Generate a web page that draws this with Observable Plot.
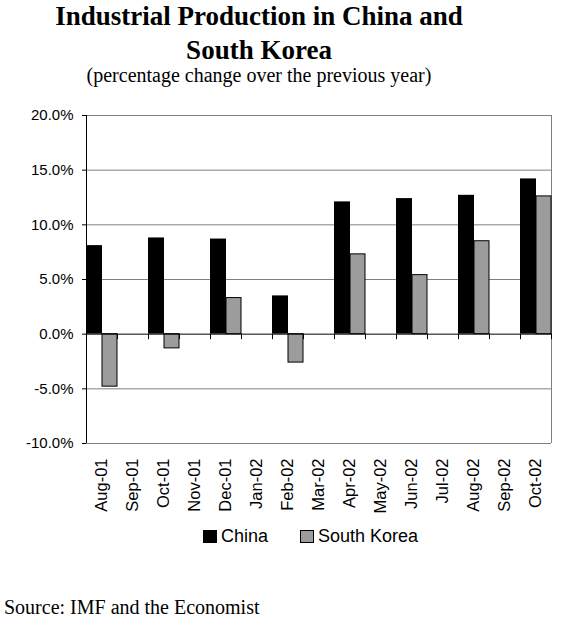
<!DOCTYPE html>
<html>
<head>
<meta charset="utf-8">
<script src="https://cdn.jsdelivr.net/npm/d3@7"></script>
<script src="https://cdn.jsdelivr.net/npm/@observablehq/plot@0.6"></script>
<style>
  html, body { margin: 0; padding: 0; background: #fff; }
  #wrap { position: relative; width: 588px; height: 618px; overflow: hidden; background: #fff; }
  .title { position: absolute; left: 0; width: 518px; text-align: center; font-family: "Liberation Serif", "Times New Roman", serif; font-weight: bold; font-size: 27px; line-height: 34px; top: -1px; color: #000; }
  .subtitle { position: absolute; left: 0; width: 518px; text-align: center; font-family: "Liberation Serif", "Times New Roman", serif; font-size: 20px; line-height: 20px; top: 65px; color: #000; }
  #chart { position: absolute; left: 0; top: 95px; }
  .legend { position: absolute; top: 526px; left: 203px; font-family: "Liberation Sans", Arial, sans-serif; font-size: 18px; line-height: 20px; display: flex; align-items: center; color: #000; }
  .sw { display: inline-block; width: 14px; height: 13px; box-sizing: border-box; margin-right: 4px; }
  .source { position: absolute; left: 4px; top: 597px; font-family: "Liberation Serif", "Times New Roman", serif; font-size: 20px; line-height: 20px; color: #000; }
</style>
</head>
<body>
<div id="wrap">
  <div class="title">Industrial Production in China and<br>South Korea</div>
  <div class="subtitle">(percentage change over the previous year)</div>
  <div id="chart"></div>
  <div class="legend">
    <span class="sw" style="background:#000;"></span><span>China</span>
    <span class="sw" style="background:#9c9c9c;border:1px solid #000;margin-left:32px;"></span><span>South Korea</span>
  </div>
  <div class="source">Source: IMF and the Economist</div>
</div>
<script>
const months = ["Aug-01","Sep-01","Oct-01","Nov-01","Dec-01","Jan-02","Feb-02","Mar-02","Apr-02","May-02","Jun-02","Jul-02","Aug-02","Sep-02","Oct-02"];
const dataMonths = ["Aug-01","Oct-01","Dec-01","Feb-02","Apr-02","Jun-02","Aug-02","Oct-02"];
const china = [8.1, 8.8, 8.7, 3.5, 12.1, 12.4, 12.7, 14.2];
const korea = [-4.8, -1.3, 3.3, -2.6, 7.3, 5.4, 8.5, 12.6];
const yTicks = [-10, -5, 0, 5, 10, 15, 20];

const chinaData = dataMonths.map((m, i) => ({month: m, value: china[i]}));
const koreaData = dataMonths.map((m, i) => ({month: m, value: korea[i]}));

const chart = Plot.plot({
  width: 588,
  height: 420,
  marginLeft: 86,
  marginRight: 37,
  marginTop: 20,
  marginBottom: 72,
  style: {fontFamily: "'Liberation Sans', Arial, sans-serif", color: "#000", background: "transparent"},
  x: {type: "band", domain: months, padding: 0, label: null},
  y: {domain: [-10, 20], label: null},
  marks: [
    Plot.ruleY(yTicks.filter(d => d !== 0), {stroke: "#808080", strokeWidth: 1}),
    Plot.ruleX([months[months.length - 1]], {dx: 15.5, y1: -10, y2: 20, stroke: "#808080", strokeWidth: 1}),
    Plot.barY(chinaData, {x: "month", y: "value", fill: "#000", insetRight: 15, insetLeft: 0}),
    Plot.barY(koreaData, {x: "month", y: "value", fill: "#9c9c9c", stroke: "#000", strokeWidth: 1, insetLeft: 16, insetRight: 0}),
    Plot.ruleY([0], {stroke: "#000", strokeWidth: 1}),
    Plot.ruleX(months, {x: d => d, dx: -15.5, y1: 0, y2: -0.5, stroke: "#000"}),
    Plot.ruleX([months[months.length - 1]], {dx: 15.5, y1: 0, y2: -0.5, stroke: "#000"}),
    Plot.axisY({ticks: yTicks, tickFormat: d => d.toFixed(1) + "%", tickSize: 4, tickPadding: 9, fontSize: 15, stroke: "#000"}),
    Plot.ruleX([months[0]], {dx: -15.5, y1: -10, y2: 20, stroke: "#000", strokeWidth: 1}),
    Plot.axisX({anchor: "bottom", tickSize: 0, tickPadding: 15, tickRotate: -90, fontSize: 16.5})
  ]
});
document.getElementById("chart").appendChild(chart);
</script>
</body>
</html>
